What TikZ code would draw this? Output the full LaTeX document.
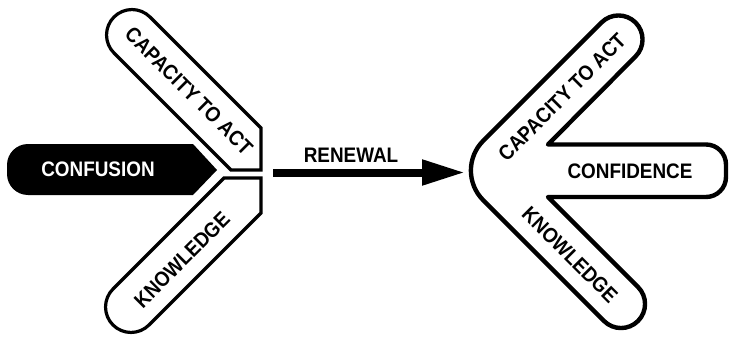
\documentclass[tikz,border=0pt]{standalone}
\usepackage{fontspec}
\setmainfont{Liberation Sans}
\newfontfamily\narrowsans[FakeStretch=0.9]{Liberation Sans}
\usetikzlibrary{arrows.meta}
\begin{document}
\begin{tikzpicture}[x=1pt,y=-1pt,
  armshape/.style={draw=black,line width=3.2pt,line join=miter,fill=white},
  chevshape/.style={draw=black,line width=4.4pt,line join=round,fill=white},
  captext/.style={font=\narrowsans\bfseries\fontsize{21}{21}\selectfont,inner sep=0pt},
]
\useasboundingbox (0,0) rectangle (729,337);

% ---- left group: confusion with two arms ----
\path[armshape] (231,170) -- (261,170) -- (261,128) -- (150,17)
  arc[start angle=-45,end angle=-225,radius=25.46] -- cycle;
\path[armshape] (224,178) -- (261,178) -- (261,213) -- (149,325)
  arc[start angle=45,end angle=225,radius=25.46] -- cycle;
\fill[black] (193,144) -- (217,170) -- (193,195) -- (28,195)
  arc[start angle=90,end angle=180,radius=21] -- (7,165)
  arc[start angle=180,end angle=270,radius=21] -- cycle;

\node[captext,text=white] (confusion) at (98,169.5) {CONFUSION};
\node[captext,rotate=-45] (capleft) at (189,91) {CAPACITY TO ACT};
\node[captext,rotate=45] (knowleft) at (182,260) {KNOWLEDGE};

% ---- renewal arrow ----
\coordinate (renewtail) at (273,172.5);
\coordinate (renewhead) at (465,172.5);
\draw[line width=8pt,-{Triangle[length=43pt,width=24pt]}] (renewtail) -- (renewhead);
\node[captext] (renewal) at (351,155.5) {RENEWAL};

% ---- right group: chevron with confidence bar ----
\path[chevshape] (548,144.5) -- (706,144.5)
  arc[start angle=-90,end angle=0,radius=20] -- (726,177)
  arc[start angle=0,end angle=90,radius=20] -- (548,197)
  -- (638,287) arc[start angle=-45,end angle=135,radius=24.04]
  -- (483.2,200.2) arc[start angle=135,end angle=225,radius=42]
  -- (601.5,22.5) arc[start angle=225,end angle=405,radius=24.04]
  -- cycle;

\node[captext] (confidence) at (630,171) {CONFIDENCE};
\node[captext,rotate=45] (capright) at (562,97) {CAPACITY TO ACT};
\node[captext,rotate=-45] (knowright) at (570,255) {KNOWLEDGE};
\end{tikzpicture}
\end{document}
